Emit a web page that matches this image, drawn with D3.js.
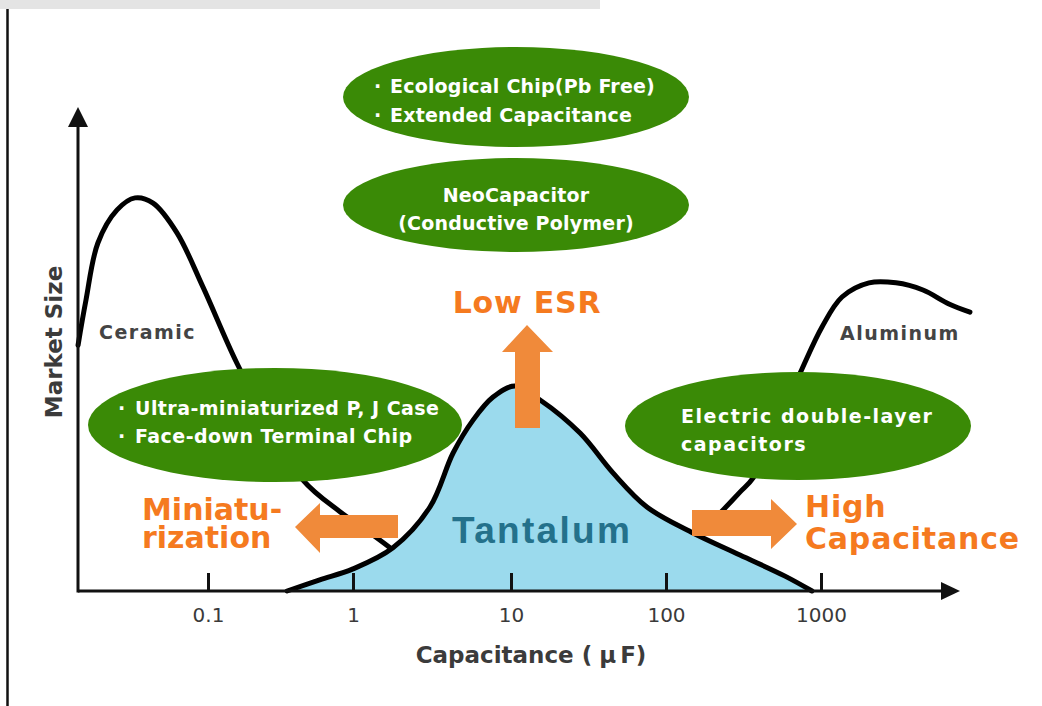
<!DOCTYPE html>
<html>
<head>
<meta charset="utf-8">
<script src="https://cdn.jsdelivr.net/npm/d3@7"></script>
<style>
  html, body { margin: 0; padding: 0; background: #fff; }
  svg { display: block; }
  text { font-family: "DejaVu Sans", sans-serif; }
</style>
</head>
<body>
<svg id="chart" width="1042" height="706"></svg>
<script>
// ---------------- DATA ----------------
const tickValues = [0.1, 1, 10, 100, 1000];
const tickLabels = ["0.1", "1", "10", "100", "1000"];

const ceramicCap  = [0.0127, 0.0144, 0.0174, 0.0236, 0.0314, 0.0418, 0.0611, 0.0924, 0.158, 0.268, 0.452, 0.813, 1.28, 1.79, 2.0];
const ceramicSize = [51.2, 60.6, 72.5, 79.4, 81.9, 80.8, 74.6, 63.3, 47.5, 34.6, 23.1, 16.5, 12.1, 8.5, 7.0];

const tantalumCap  = [0.351, 0.59, 1, 1.79, 3.07, 4.3, 5.75, 7.7, 10.6, 15.4, 27.9, 45.5, 75.3, 145, 300, 586, 875];
const tantalumSize = [0, 2.3, 4.6, 9.0, 17.5, 28.75, 35.6, 40.4, 42.7, 39.8, 32.9, 24.6, 17.5, 12.3, 7.5, 3.1, 0];

const aluminumCap  = [192, 237, 300, 364, 505, 754, 1015, 1366, 2040, 3047, 4550, 6695, 9140];
const aluminumSize = [14.0, 17.1, 20.6, 23.5, 33.5, 46.25, 55, 61.25, 64.2, 64.2, 62.7, 59.8, 58.1];

const curveLabels = ["Ceramic", "Aluminum", "Tantalum"];
const topBubble1 = ["Ecological Chip(Pb Free)", "Extended Capacitance"];
const topBubble2 = ["NeoCapacitor", "(Conductive Polymer)"];
const leftBubble = ["Ultra-miniaturized P, J Case", "Face-down Terminal Chip"];
const rightBubble = ["Electric double-layer", "capacitors"];

// ---------------- SETUP ----------------
const svg = d3.select("#chart");
const GREEN = "#3a8a06", ORANGE = "#f08a3a", ORANGE_TXT = "#f57a1f", AXIS_TXT = "#3b3b3b";

const x = d3.scaleLog().domain(tickValues).range([208, 353, 511, 666, 821]);
const y = d3.scaleLinear().domain([0, 100]).range([591, 111]);
const frame = { left: 78, right: 960, top: 107, bottom: 591 };

// page decorations
svg.append("rect").attr("x", 0).attr("y", 0).attr("width", 600).attr("height", 9).attr("fill", "#e4e4e4");
svg.append("line").attr("x1", 7.5).attr("x2", 7.5).attr("y1", 9).attr("y2", 706).attr("stroke", "#111").attr("stroke-width", 2.5);

const line = d3.line().x(d => x(d[0])).y(d => y(d[1])).curve(d3.curveCatmullRom.alpha(0.5));
const area = d3.area().x(d => x(d[0])).y0(y(0)).y1(d => y(d[1])).curve(d3.curveCatmullRom.alpha(0.5));

const zip = (a, b) => a.map((v, i) => [v, b[i]]);
const ceramic = zip(ceramicCap, ceramicSize);
const tantalum = zip(tantalumCap, tantalumSize);
const aluminum = zip(aluminumCap, aluminumSize);

// ceramic + aluminum lines
svg.append("path").attr("d", line(ceramic)).attr("fill", "none").attr("stroke", "#000").attr("stroke-width", 5).attr("stroke-linecap", "round");
svg.append("path").attr("d", line(aluminum)).attr("fill", "none").attr("stroke", "#000").attr("stroke-width", 5).attr("stroke-linecap", "round");

// tantalum area + line
svg.append("path").attr("d", area(tantalum)).attr("fill", "#9bdaed");
svg.append("path").attr("d", line(tantalum)).attr("fill", "none").attr("stroke", "#000").attr("stroke-width", 5).attr("stroke-linecap", "round");

// axes
const xAxis = d3.axisBottom(x).tickValues(tickValues).tickFormat((d, i) => tickLabels[i]).tickSize(-18).tickPadding(17);
const gx = svg.append("g").attr("transform", `translate(0,${frame.bottom})`).call(xAxis);
gx.select(".domain").remove();
gx.selectAll(".tick line").attr("stroke", "#111").attr("stroke-width", 3);
gx.selectAll(".tick text").attr("fill", "#3a3a3a").style("font-family", "DejaVu Sans").style("font-size", "20px");

svg.append("line").attr("x1", frame.left).attr("x2", frame.right - 16).attr("y1", frame.bottom).attr("y2", frame.bottom).attr("stroke", "#111").attr("stroke-width", 3);
svg.append("path").attr("d", `M${frame.right},${frame.bottom} L${frame.right - 19},${frame.bottom - 9} L${frame.right - 19},${frame.bottom + 9} Z`).attr("fill", "#111");
svg.append("line").attr("x1", frame.left).attr("x2", frame.left).attr("y1", frame.bottom + 1.5).attr("y2", frame.top + 16).attr("stroke", "#111").attr("stroke-width", 3);
svg.append("path").attr("d", `M${frame.left},${frame.top} L${frame.left - 10},${frame.top + 20} L${frame.left + 10},${frame.top + 20} Z`).attr("fill", "#111");

// axis titles
const xt = svg.append("text").attr("x", 531).attr("y", 663).attr("text-anchor", "middle")
  .attr("fill", AXIS_TXT).attr("font-weight", "bold").style("font-size", "23px");
xt.append("tspan").text("Capacitance (");
xt.append("tspan").attr("dx", 7).text("μ");
xt.append("tspan").attr("dx", 4).text("F)");
svg.append("text").attr("transform", "translate(62,342) rotate(-90)").attr("text-anchor", "middle")
  .attr("fill", AXIS_TXT).attr("font-weight", "bold").style("font-size", "23px").text("Market Size");

// curve labels
svg.append("text").attr("x", 99).attr("y", 339).attr("fill", "#444").attr("font-weight", "bold")
  .style("font-size", "19px").style("letter-spacing", "1.5px").text(curveLabels[0]);
svg.append("text").attr("x", 840).attr("y", 340).attr("fill", "#444").attr("font-weight", "bold")
  .style("font-size", "19px").style("letter-spacing", "1.5px").text(curveLabels[1]);
svg.append("text").attr("x", 452).attr("y", 543).attr("fill", "#24718b").attr("font-weight", "bold")
  .style("font-family", "Liberation Sans").style("font-size", "37px").style("letter-spacing", "2.3px").text(curveLabels[2]);

// green bubbles
function bubble(cx, cy, rx, ry) {
  svg.append("ellipse").attr("cx", cx).attr("cy", cy).attr("rx", rx).attr("ry", ry).attr("fill", GREEN);
}
function wtext(xp, yp, s, anchor, ls) {
  svg.append("text").attr("x", xp).attr("y", yp).attr("text-anchor", anchor || "start")
    .attr("fill", "#fff").attr("font-weight", "bold").style("font-size", "19px")
    .style("letter-spacing", (ls || 0) + "px").text(s);
}
bubble(516, 97, 173, 50);
wtext(374, 93, "·"); wtext(390, 93, topBubble1[0], "start", 0.2);
wtext(374, 122, "·"); wtext(390, 122, topBubble1[1], "start", 0.2);

bubble(516, 205, 173, 47);
wtext(516, 202, topBubble2[0], "middle", 0.2);
wtext(516, 230, topBubble2[1], "middle", 0.2);

bubble(275, 425, 187, 57);
wtext(118, 415, "·"); wtext(135, 415, leftBubble[0], "start", 0.45);
wtext(118, 443, "·"); wtext(135, 443, leftBubble[1], "start", 0.45);

bubble(798, 426, 173, 54);
wtext(681, 423, rightBubble[0], "start", 1.5);
wtext(681, 451, rightBubble[1], "start", 1.5);

// orange arrows
svg.append("path").attr("d", "M398,515 L320,515 L320,503 L295,527 L320,553 L320,538 L398,538 Z").attr("fill", ORANGE);
svg.append("path").attr("d", "M692,510 L771,510 L771,499 L797,524 L771,549 L771,536 L692,536 Z").attr("fill", ORANGE);
svg.append("path").attr("d", "M515,428 L515,352 L502,352 L527,325 L553,352 L540,352 L540,428 Z").attr("fill", ORANGE);

// orange labels
function otext(xp, yp, s, anchor, ls) {
  svg.append("text").attr("x", xp).attr("y", yp).attr("text-anchor", anchor || "start")
    .attr("fill", ORANGE_TXT).attr("font-weight", "bold").style("font-size", "30px")
    .style("letter-spacing", (ls === undefined ? 0.8 : ls) + "px").text(s);
}
otext(527, 313, "Low ESR", "middle");
otext(142, 520, "Miniatu-", "start", 0);
otext(142, 548, "rization", "start", 0);
otext(805, 517, "High");
otext(805, 549, "Capacitance");
</script>
</body>
</html>
